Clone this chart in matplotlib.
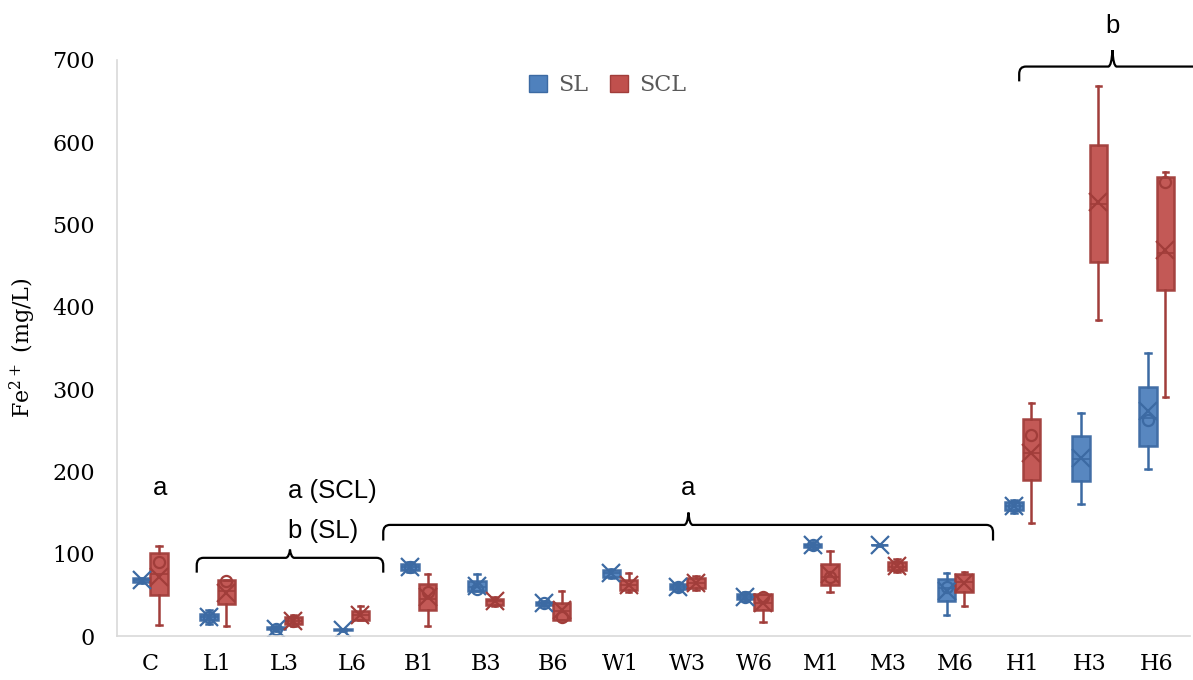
import matplotlib
matplotlib.use("Agg")
import matplotlib.pyplot as plt
import matplotlib.patches as mpatches
from matplotlib.path import Path
import numpy as np

plt.rcParams['mathtext.fontset'] = 'dejavuserif'

cats = ["C", "L1", "L3", "L6", "B1", "B3", "B6", "W1", "W3", "W6",
        "M1", "M3", "M6", "H1", "H3", "H6"]

# SL (blue) five-number summaries + mean
sl_lo   = [65, 14, 6, 6, 78, 55, 37, 70, 55, 43, 106, 109, 25, 150, 160, 203]
sl_q1   = [66, 19, 8, 7, 80, 55, 38, 72, 57, 45, 108, 110, 42, 153, 188, 231]
sl_med  = [68, 23, 9, 7, 84, 60, 40, 76, 60, 48, 110, 110, 58, 158, 215, 265]
sl_q3   = [70, 27, 11, 8, 88, 67, 41, 80, 63, 51, 112, 110, 69, 163, 243, 303]
sl_hi   = [71, 31, 12, 9, 90, 75, 43, 82, 65, 54, 114, 111, 77, 165, 271, 344]
sl_mean = [68, 23, 9, 7, 84, 61, 40, 76, 60, 48, 110, 110, 55, 158, 216, 273]
sl_pts  = [[], [23], [9], [], [84], [57], [40], [], [60], [48], [110], [], [60], [158], [], [262]]

# SCL (red)
scl_lo   = [13, 12, 12, 19, 12, 36, 19, 54, 56, 17, 53, 78, 37, 137, 384, 291]
scl_q1   = [50, 39, 14, 19, 31, 38, 19, 56, 58, 31, 62, 80, 53, 190, 455, 420]
scl_med  = [75, 55, 18, 25, 45, 42, 30, 62, 64, 40, 72, 84, 66, 222, 525, 465]
scl_q3   = [101, 68, 23, 30, 63, 45, 40, 68, 70, 51, 88, 90, 75, 264, 597, 558]
scl_hi   = [109, 68, 26, 36, 75, 47, 55, 76, 73, 51, 103, 93, 78, 283, 668, 564]
scl_mean = [72, 52, 18, 25, 48, 42, 32, 62, 64, 40, 75, 85, 65, 222, 527, 469]
scl_pts  = [[90], [67], [18], [], [53], [], [23], [], [], [47], [72], [85], [], [244], [], [552]]

blue, blue_edge = "#4f81bd", "#3c6aa3"
red, red_edge = "#c0504d", "#a13d3a"

fig = plt.figure(figsize=(11.93, 6.8), dpi=100)
ax = fig.add_axes([0.098, 0.0647, 0.8997, 0.8471])


def stats(lo, q1, med, q3, hi, mean, pts):
    out = []
    for i in range(len(lo)):
        out.append(dict(whislo=lo[i], q1=q1[i], med=med[i], q3=q3[i],
                        whishi=hi[i], mean=mean[i], fliers=pts[i]))
    return out


def draw(st, pos, fc, ec):
    ax.bxp(st, positions=pos, widths=0.26, capwidths=0.08, patch_artist=True,
           showmeans=True, showfliers=True, manage_ticks=False,
           boxprops=dict(facecolor=fc, edgecolor=ec, linewidth=1.8, alpha=0.95),
           medianprops=dict(color=ec, linewidth=1.2),
           whiskerprops=dict(color=ec, linewidth=1.8),
           capprops=dict(color=ec, linewidth=1.8),
           meanprops=dict(marker="x", markeredgecolor=ec, markersize=13,
                          markeredgewidth=1.6),
           flierprops=dict(marker="o", markerfacecolor="none",
                           markeredgecolor=ec, markersize=8,
                           markeredgewidth=1.6))


x = np.arange(len(cats))
draw(stats(sl_lo, sl_q1, sl_med, sl_q3, sl_hi, sl_mean, sl_pts), x - 0.13, blue, blue_edge)
draw(stats(scl_lo, scl_q1, scl_med, scl_q3, scl_hi, scl_mean, scl_pts), x + 0.13, red, red_edge)

ax.set_xlim(-0.5, len(cats) - 0.5)
ax.set_ylim(0, 700)
ax.set_yticks(range(0, 701, 100))
ax.set_xticks(x)
ax.set_xticklabels(cats)
ax.tick_params(length=0, labelsize=16, pad=12)
ax.tick_params(axis="y", pad=16)
for lab in ax.get_xticklabels() + ax.get_yticklabels():
    lab.set_fontfamily("DejaVu Serif")
for s in ["top", "right"]:
    ax.spines[s].set_visible(False)
for s in ["left", "bottom"]:
    ax.spines[s].set_color("#d9d9d9")
    ax.spines[s].set_linewidth(1.2)
ax.set_ylabel("Fe$^{2+}$ (mg/L)", fontfamily="DejaVu Serif", fontsize=16, labelpad=10)


def brace(x0, x1, xm, y, drop, up):
    rx, ry = 0.1, 9
    s, sy = 0.06, 3
    verts = [(x0, y - drop), (x0, y - ry), (x0, y), (x0 + rx, y),
             (xm - s, y), (xm - s * 0.2, y + sy * 0.3), (xm, y + up),
             (xm + s * 0.2, y + sy * 0.3), (xm + s, y),
             (x1 - rx, y), (x1, y), (x1, y - ry), (x1, y - drop)]
    codes = [Path.MOVETO, Path.LINETO, Path.CURVE3, Path.CURVE3,
             Path.LINETO, Path.CURVE3, Path.CURVE3, Path.CURVE3, Path.CURVE3,
             Path.LINETO, Path.CURVE3, Path.CURVE3, Path.LINETO]
    ax.add_patch(mpatches.PathPatch(Path(verts, codes), fill=False,
                                    edgecolor="black", linewidth=1.6, clip_on=False))


brace(0.69, 3.47, 2.08, 95, 18, 10)
brace(3.47, 12.56, 8.02, 135, 19, 15)
brace(12.95, 15.73, 14.34, 692, 18, 20)

tk = dict(fontfamily="Liberation Sans", fontsize=18.5, color="black")
ax.text(0.14, 171, "a", ha="center", va="baseline", **tk)
ax.text(2.05, 168, "a (SCL)", ha="left", va="baseline", **tk)
ax.text(2.05, 119, "b (SL)", ha="left", va="baseline", **tk)
ax.text(8.01, 171, "a", ha="center", va="baseline", **tk)
ax.text(14.34, 733, "b", ha="center", va="baseline", clip_on=False, **tk)

handles = [mpatches.Patch(facecolor=blue, edgecolor=blue_edge, label="SL"),
           mpatches.Patch(facecolor=red, edgecolor=red_edge, label="SCL")]
leg = ax.legend(handles=handles, loc="upper center", bbox_to_anchor=(0.457, 1.01),
                ncol=2, frameon=False, handlelength=0.8, handleheight=0.8,
                columnspacing=1.0, handletextpad=0.5,
                prop=dict(family="DejaVu Serif", size=16))
for t in leg.get_texts():
    t.set_color("#595959")

fig.savefig("out.png", dpi=100)
